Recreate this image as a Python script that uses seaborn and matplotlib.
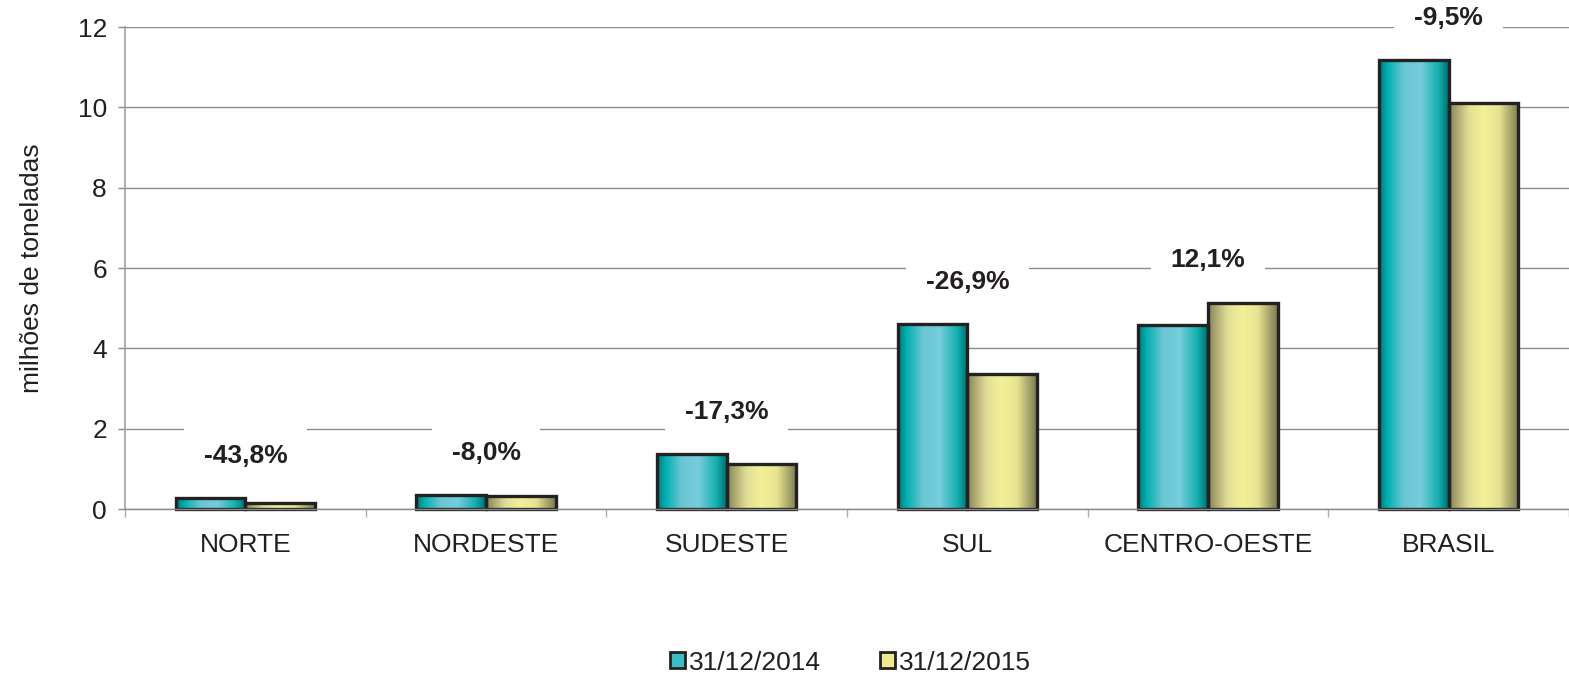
import numpy as np
import pandas as pd
import matplotlib
matplotlib.use("Agg")
import matplotlib.pyplot as plt
import seaborn as sns
from matplotlib.colors import LinearSegmentedColormap
from matplotlib.patches import Patch
from matplotlib.ticker import FixedLocator

regions = ["NORTE", "NORDESTE", "SUDESTE", "SUL", "CENTRO-OESTE", "BRASIL"]
v2014 = [0.27, 0.35, 1.37, 4.60, 4.58, 11.18]
v2015 = [0.15, 0.32, 1.13, 3.36, 5.14, 10.10]
changes = ["-43,8%", "-8,0%", "-17,3%", "-26,9%", "12,1%", "-9,5%"]
series = ["31/12/2014", "31/12/2015"]
yticks = [0, 2, 4, 6, 8, 10, 12]

df = pd.DataFrame({
    "regiao": regions * 2,
    "valor": v2014 + v2015,
    "data": [series[0]] * len(regions) + [series[1]] * len(regions),
})

sns.set_style("white")
plt.rcParams["font.family"] = ["Liberation Sans", "DejaVu Sans"]
TXT = "#231f20"
FS = 19

fig = plt.figure(figsize=(15.69, 6.77), dpi=100)
ax = fig.add_axes([0.0797, 0.248, 0.9203, 0.712])

sns.barplot(data=df, x="regiao", y="valor", hue="data",
            palette=["#3cbcc4", "#ecea8c"], width=0.58, saturation=1,
            edgecolor="#222222", linewidth=2.4, legend=False, ax=ax)

teal = LinearSegmentedColormap.from_list("teal", [
    (0.0, "#007878"), (0.12, "#00b0b0"), (0.35, "#6ac6d4"),
    (0.6, "#76ccda"), (0.85, "#14b0b0"), (1.0, "#006e6e")])
olive = LinearSegmentedColormap.from_list("olive", [
    (0.0, "#86845a"), (0.28, "#e2de96"), (0.5, "#f4f098"),
    (0.72, "#e6e290"), (1.0, "#7c7850")])
grad = np.linspace(0, 1, 256).reshape(1, -1)

for cont, cm in zip(ax.containers, [teal, olive]):
    for bar in cont:
        x0, y0 = bar.get_x(), bar.get_y()
        w, h = bar.get_width(), bar.get_height()
        im = ax.imshow(grad, cmap=cm, extent=[x0, x0 + w, y0, y0 + h],
                       aspect="auto", interpolation="bicubic",
                       zorder=bar.get_zorder() + 0.1)
        im.set_clip_path(bar)
        bar.set_facecolor("none")
        bar.set_zorder(bar.get_zorder() + 0.2)
        bar.set_clip_on(False)

ax.set_xlim(-0.5, len(regions) - 0.5)
ax.set_ylim(0, 12)
ax.set_yticks(yticks)

ax.yaxis.grid(True, color="#8c8c8c", lw=1.0)
ax.set_axisbelow(True)
for s in ["top", "right"]:
    ax.spines[s].set_visible(False)
ax.spines["left"].set_color("#a0a0a0")
ax.spines["bottom"].set_color("#888888")
ax.spines["left"].set_linewidth(1.2)
ax.spines["bottom"].set_linewidth(1.0)

ax.tick_params(axis="y", length=5, color="#888888", width=1, labelsize=FS,
               pad=8, labelcolor=TXT, left=True)
ax.tick_params(axis="x", which="major", length=0, labelsize=FS, pad=17,
               labelcolor=TXT)
ax.xaxis.set_minor_locator(FixedLocator(np.arange(-0.5, len(regions), 1.0)))
ax.tick_params(axis="x", which="minor", length=6, color="#aaaaaa", width=1,
               bottom=True)

ax.set_xlabel("")
ax.set_ylabel("milhões de toneladas", fontsize=FS, color=TXT, labelpad=24)

for i, c in enumerate(changes):
    ax.text(i, max(v2014[i], v2015[i]) + 1.05, c, ha="center", va="center",
            fontsize=19, fontweight="bold", color=TXT, zorder=6,
            clip_on=False,
            bbox=dict(boxstyle="square,pad=0.75", facecolor="white",
                      edgecolor="none"))

handles = [Patch(facecolor="#3cbcc4", edgecolor="#222222", lw=2),
           Patch(facecolor="#ecea8c", edgecolor="#222222", lw=2)]
fig.legend(handles, series, loc="center", bbox_to_anchor=(0.542, 0.021),
           ncol=2, frameon=False, fontsize=FS, handlelength=0.55,
           handleheight=0.55, handletextpad=0.15, columnspacing=2.25,
           labelcolor=TXT)

fig.savefig("out.png", dpi=100)
